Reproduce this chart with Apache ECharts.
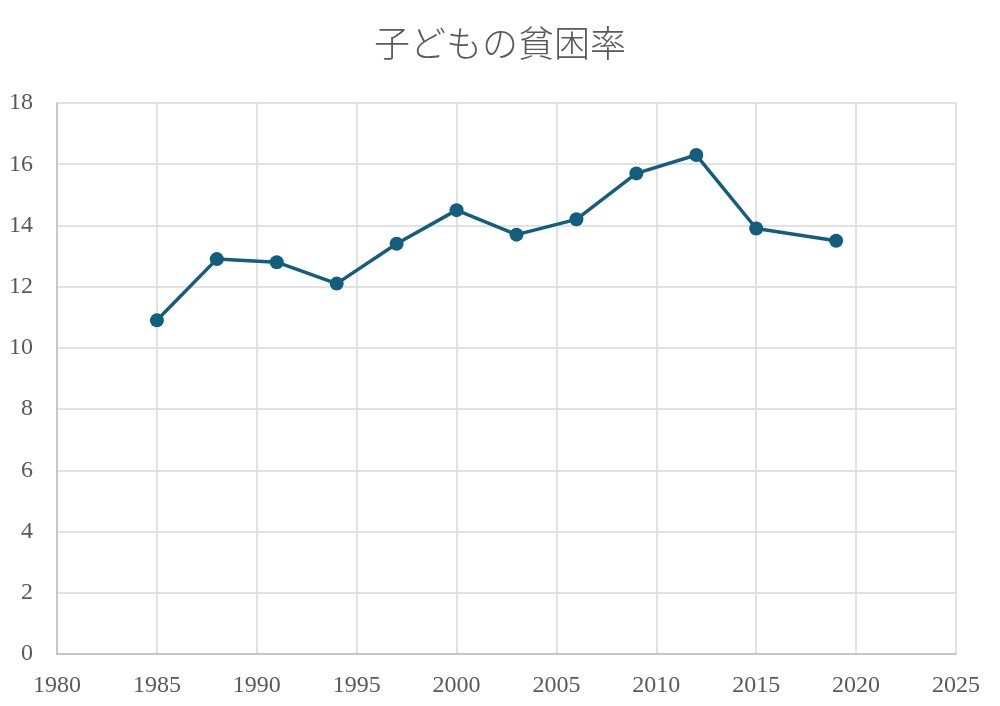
<!DOCTYPE html>
<html>
<head>
<meta charset="utf-8">
<script src="https://cdn.jsdelivr.net/npm/echarts@6/dist/echarts.min.js"></script>
<style>
  html, body { margin: 0; padding: 0; background: #fff; }
  #chart { width: 1000px; height: 706px; }
</style>
</head>
<body>
<div id="chart"></div>
<script>
// 調査年と子どもの貧困率(%)
const years = [1985, 1988, 1991, 1994, 1997, 2000, 2003, 2006, 2009, 2012, 2015, 2019];
const rates = [10.9, 12.9, 12.8, 12.1, 13.4, 14.5, 13.7, 14.2, 15.7, 16.3, 13.9, 13.5];

const serif = '"Liberation Serif", "Times New Roman", serif';
const textColor = '#595959';

const chart = echarts.init(document.getElementById('chart'));
chart.setOption({
  animation: false,
  title: {
    text: '子どもの貧困率',
    left: 'center',
    top: 20,
    textStyle: {
      fontFamily: '"Noto Sans CJK JP", sans-serif',
      fontWeight: 300,
      fontSize: 36,
      color: textColor
    }
  },
  grid: { left: 57, right: 44, top: 103, bottom: 52 },
  xAxis: {
    type: 'value',
    min: 1980,
    max: 2025,
    interval: 5,
    axisLine: { lineStyle: { color: '#bfbfbf', width: 1.5 } },
    axisTick: { show: false },
    axisLabel: {
      formatter: v => String(v),
      margin: 20,
      fontFamily: serif,
      fontSize: 24,
      color: textColor
    },
    splitLine: { show: true, lineStyle: { color: '#d9d9d9', width: 1.5 } }
  },
  yAxis: {
    type: 'value',
    min: 0,
    max: 18,
    interval: 2,
    axisLine: { show: true, lineStyle: { color: '#bfbfbf', width: 1.5 } },
    axisTick: { show: false },
    axisLabel: {
      margin: 24,
      fontFamily: serif,
      fontSize: 24,
      color: textColor
    },
    splitLine: { show: true, lineStyle: { color: '#d9d9d9', width: 1.5 } }
  },
  series: [{
    type: 'line',
    data: years.map((y, i) => [y, rates[i]]),
    symbol: 'circle',
    symbolSize: 14,
    lineStyle: { color: '#135e7e', width: 3.5 },
    itemStyle: { color: '#135e7e' }
  }]
});
</script>
</body>
</html>
